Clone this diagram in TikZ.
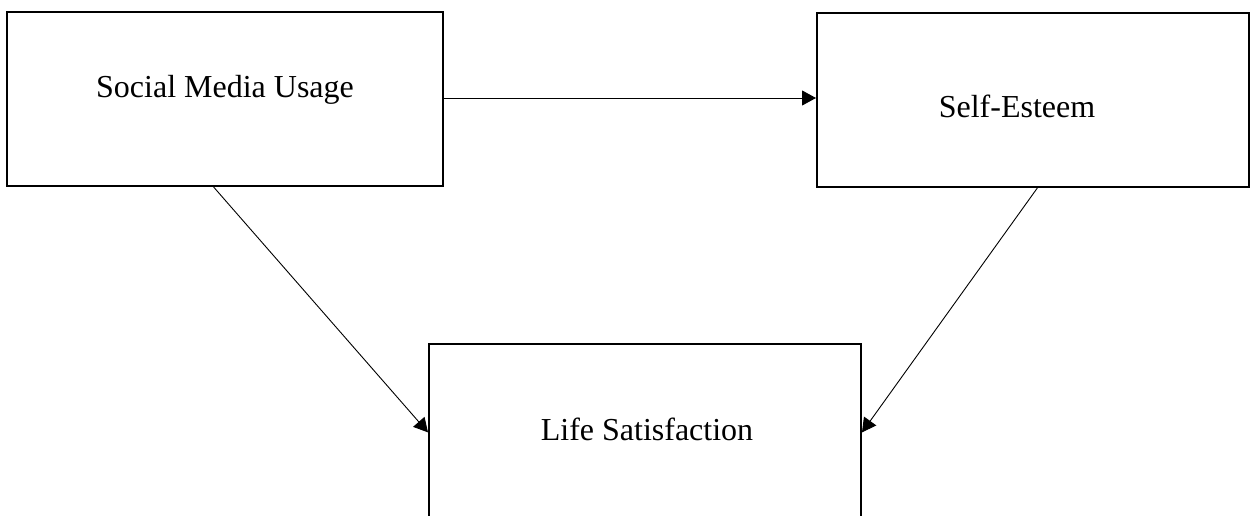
\documentclass[tikz,border=0pt]{standalone}
\usepackage{fontspec}
\setmainfont{Liberation Serif}
\usetikzlibrary{calc,arrows.meta}
\begin{document}
\begin{tikzpicture}[x=1pt,y=-1pt,
  box/.style={draw=black,line width=2pt,rectangle,inner sep=0pt,minimum width=#1},
  lbl/.style={font=\fontsize{32}{38}\selectfont,anchor=base,inner sep=0pt},
  conn/.style={line width=0.9pt,-{Triangle[length=14pt,width=15pt]}}]
\useasboundingbox (0,0) rectangle (1251,515);
\clip (0,0) rectangle (1251,515);
\node[box=436pt,minimum height=174pt] (b1) at (225,99) {};
\node[box=432pt,minimum height=174pt] (b2) at (1033,100) {};
\node[box=432pt,minimum height=216pt] (b3) at (645,452) {};
\node[lbl] (t1) at (225,97) {Social Media Usage};
\node[lbl] (t2) at (1017,117) {Self-Esteem};
\node[lbl] (t3) at (647,440) {Life Satisfaction};
\coordinate (s1) at ($(b1.south west)!0.474!(b1.south east)$);
\coordinate (s2) at ($(b2.south west)!0.51!(b2.south east)$);
\coordinate (e1) at ($(b3.north west)!0.41!(b3.south west)$);
\coordinate (e2) at ($(b3.north east)!0.41!(b3.south east)$);
\draw[conn] (b1.east |- 0,98) -- (b2.west |- 0,98);
\draw[conn] (s1) -- (e1);
\draw[conn] (s2) -- (e2);
\end{tikzpicture}
\end{document}
